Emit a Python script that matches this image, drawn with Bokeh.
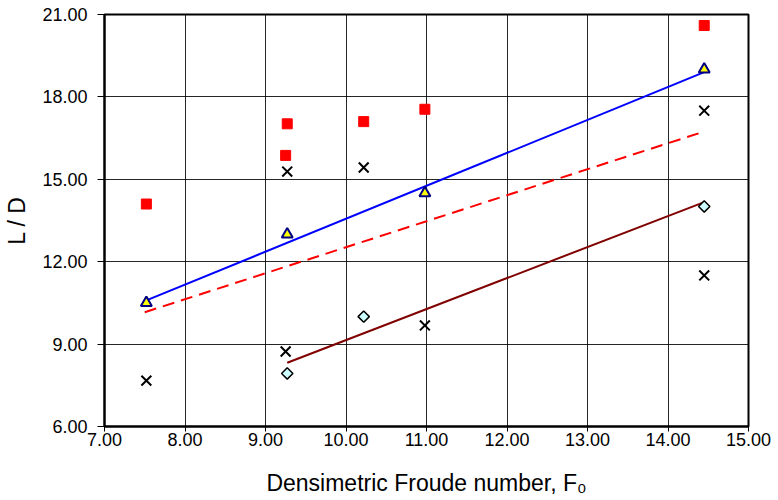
import math
from bokeh.plotting import figure
from bokeh.models import FixedTicker, PrintfTickFormatter, Range1d
from bokeh.embed import file_html
from bokeh.resources import INLINE

# Measured points
sq_x = [7.52, 9.25, 9.27, 10.22, 10.98, 14.45]
sq_y = [14.1, 15.87, 17.02, 17.1, 17.55, 20.6]

tri_x = [7.52, 9.27, 10.98, 14.45]
tri_y = [10.5, 13.0, 14.5, 19.0]

cross_x = [7.52, 9.25, 9.27, 10.22, 10.98, 14.45, 14.45]
cross_y = [7.67, 8.73, 15.28, 15.43, 9.68, 17.5, 11.5]

dia_x = [9.27, 10.22, 14.45]
dia_y = [7.93, 10.0, 14.01]

# Trend lines (end points)
blue_fit_x = [7.52, 14.45]
blue_fit_y = [10.59, 18.9]
dash_fit_x = [7.50, 14.45]
dash_fit_y = [10.16, 16.74]
brown_fit_x = [9.27, 14.45]
brown_fit_y = [8.32, 14.17]

x_ticks = [7, 8, 9, 10, 11, 12, 13, 14, 15]
y_ticks = [6, 9, 12, 15, 18, 21]

FONT = "Liberation Sans"

p = figure(width=778, height=500, output_backend="svg", toolbar_location=None,
           x_range=Range1d(7, 15), y_range=Range1d(6, 21),
           min_border_left=104, min_border_right=30,
           min_border_top=14, min_border_bottom=74)

p.background_fill_color = "white"
p.border_fill_color = "white"
p.outline_line_color = "black"
p.outline_line_width = 2

for ax in (p.xaxis[0], p.yaxis[0]):
    ax.major_label_text_font = FONT
    ax.major_label_text_font_size = "18px"
    ax.major_label_text_color = "black"
    ax.axis_label_text_font = FONT
    ax.axis_label_text_font_size = "23px"
    ax.axis_label_text_font_style = "normal"
    ax.axis_label_text_color = "black"
    ax.axis_line_color = "black"
    ax.axis_line_width = 2
    ax.major_tick_line_color = "black"
    ax.major_tick_line_width = 1
    ax.major_tick_in = 0
    ax.minor_tick_line_color = None
    ax.formatter = PrintfTickFormatter(format="%.2f")

p.xaxis.ticker = FixedTicker(ticks=x_ticks)
p.yaxis.ticker = FixedTicker(ticks=y_ticks)
p.xaxis.axis_label = "Densimetric Froude number, F\u2080"
p.yaxis.axis_label = "L / D"
p.xaxis.major_tick_out = 5
p.yaxis.major_tick_out = 7
p.xaxis.major_label_standoff = 1
p.yaxis.major_label_standoff = 10
p.xaxis.axis_label_standoff = 21
p.yaxis.axis_label_standoff = 9

p.xgrid.ticker = FixedTicker(ticks=x_ticks)
p.ygrid.ticker = FixedTicker(ticks=y_ticks)
for g in (p.xgrid[0], p.ygrid[0]):
    g.grid_line_color = "black"
    g.grid_line_width = 1
    g.grid_line_alpha = 0.85

# Trend lines
p.line(blue_fit_x, blue_fit_y, line_color="#0000FF", line_width=2)
p.line(dash_fit_x, dash_fit_y, line_color="#FF0000", line_width=2, line_dash="12 7")
p.line(brown_fit_x, brown_fit_y, line_color="#800000", line_width=2)

# Markers
p.scatter(sq_x, sq_y, marker="square", size=10, fill_color="#FF0000", line_color="#FF0000")
p.scatter(tri_x, tri_y, marker="triangle", size=11, fill_color="#FFFF00",
          line_color="#000080", line_width=2)
p.scatter(cross_x, cross_y, marker="x", size=14, line_color="black", line_width=2)
p.scatter(dia_x, dia_y, marker="square", size=8, angle=math.pi / 4,
          fill_color="#CCFFFF", line_color="black", line_width=1.5)

open("out.html", "w").write(file_html(p, INLINE))
